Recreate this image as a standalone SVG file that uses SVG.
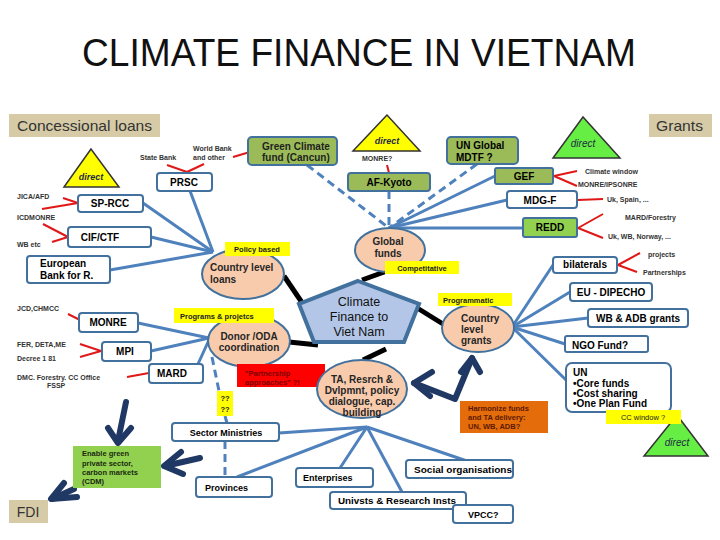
<svg xmlns="http://www.w3.org/2000/svg" width="720" height="540" viewBox="0 0 720 540">
<style>
.bx{fill:#fff;stroke:#41719c;stroke-width:2}
.gbx{fill:#9bbb59;stroke:#41719c;stroke-width:2}
.el{fill:#f8cbad;stroke:#41719c;stroke-width:2}
.yl{fill:#ffff00}
.tan{fill:#d6cba6}
.bl{stroke:#4f81bd;stroke-width:3;fill:none}
.dl{stroke:#4f81bd;stroke-width:3;fill:none;stroke-dasharray:8 5}
.rl{stroke:#e01818;stroke-width:2;fill:none}
.blk{stroke:#000;stroke-width:5;fill:none}
.nav{stroke:#1f3864;stroke-width:6;fill:none;stroke-linecap:round;stroke-linejoin:round}
.tri{stroke:#333;stroke-width:1.5}
text{font-family:"Liberation Sans",Arial,sans-serif;font-weight:bold;font-size:10px;fill:#000}
.s{font-size:7px;fill:#333}
.lb{font-size:7.5px;fill:#222}
.c{text-anchor:middle}
.el-t{fill:#262626}
.hd{font-weight:normal;fill:#333}
.dir{font-style:italic;font-size:9px;fill:#1f2a44}
</style>

<text x="359" y="66" class="c hd" textLength="554" lengthAdjust="spacingAndGlyphs" style="font-size:39px;fill:#111">CLIMATE FINANCE IN VIETNAM</text>

<g id="connectors">
  <line class="bl" x1="190" y1="191" x2="213" y2="252"/>
  <line class="bl" x1="143" y1="203" x2="213" y2="252"/>
  <line class="bl" x1="151" y1="237" x2="213" y2="252"/>
  <line class="bl" x1="110" y1="270" x2="213" y2="252"/>
  <line class="dl" x1="307" y1="165" x2="389" y2="228"/>
  <line class="dl" x1="389" y1="191" x2="389" y2="228"/>
  <line class="dl" x1="477" y1="164" x2="389" y2="228"/>
  <line class="bl" x1="495" y1="176" x2="389" y2="228"/>
  <line class="bl" x1="507" y1="200" x2="389" y2="228"/>
  <line class="bl" x1="523" y1="228" x2="389" y2="228"/>
  <line class="bl" x1="512" y1="327" x2="553" y2="265"/>
  <line class="bl" x1="512" y1="327" x2="570" y2="292"/>
  <line class="bl" x1="512" y1="327" x2="588" y2="318"/>
  <line class="bl" x1="512" y1="327" x2="565" y2="344"/>
  <line class="bl" x1="512" y1="327" x2="566" y2="380"/>
  <line class="bl" x1="138" y1="323" x2="209" y2="338"/>
  <line class="bl" x1="151" y1="351" x2="209" y2="338"/>
  <line class="bl" x1="198" y1="364" x2="209" y2="340"/>
  <line class="dl" x1="212" y1="357" x2="219" y2="391"/>
  <line class="dl" x1="225" y1="416" x2="227" y2="423"/>
  <line class="bl" x1="279" y1="433" x2="367" y2="427"/>
  <line class="bl" x1="237" y1="477" x2="367" y2="427"/>
  <line class="bl" x1="340" y1="468" x2="367" y2="427"/>
  <line class="bl" x1="402" y1="492" x2="367" y2="427"/>
  <line class="bl" x1="467" y1="461" x2="367" y2="427"/>
  <line class="dl" x1="225" y1="441" x2="225" y2="477"/>
  <line class="blk" x1="284" y1="276" x2="305" y2="307"/>
  <line class="blk" x1="362" y1="280" x2="387" y2="271"/>
  <line class="blk" x1="414" y1="306" x2="443" y2="324"/>
  <line class="blk" x1="318" y1="345" x2="289" y2="342"/>
  <line class="blk" x1="386" y1="349" x2="363" y2="360"/>
  <line class="rl" x1="167" y1="165" x2="187" y2="172"/>
  <line class="rl" x1="204" y1="164" x2="187" y2="172"/>
  <line class="rl" x1="233" y1="157" x2="250" y2="152"/>
  <line class="rl" x1="63" y1="198" x2="78" y2="203"/>
  <line class="rl" x1="42" y1="209" x2="78" y2="203"/>
  <line class="rl" x1="43" y1="224" x2="68" y2="237"/>
  <line class="rl" x1="52" y1="242" x2="68" y2="237"/>
  <line class="rl" x1="68" y1="314" x2="80" y2="320"/>
  <line class="rl" x1="80" y1="344" x2="101" y2="351"/>
  <line class="rl" x1="80" y1="357" x2="101" y2="351"/>
  <line class="rl" x1="127" y1="377" x2="149" y2="373"/>
  <line class="rl" x1="387" y1="165" x2="389" y2="173"/>
  <line class="rl" x1="577" y1="171" x2="554" y2="176"/>
  <line class="rl" x1="577" y1="186" x2="554" y2="176"/>
  <line class="rl" x1="578" y1="200" x2="603" y2="199"/>
  <line class="rl" x1="603" y1="214" x2="578" y2="228"/>
  <line class="rl" x1="603" y1="238" x2="578" y2="228"/>
  <line class="rl" x1="640" y1="253" x2="618" y2="265"/>
  <line class="rl" x1="637" y1="272" x2="618" y2="265"/>
  <line class="nav" x1="126" y1="402" x2="118" y2="441"/>
  <polyline class="nav" points="108,428 118,443 131,428"/>
  <line class="nav" x1="200" y1="458" x2="165" y2="466"/>
  <polyline class="nav" points="181,452 164,466 183,474"/>
  <line class="nav" x1="74" y1="489" x2="52" y2="499"/>
  <polyline class="nav" points="64,483 51,499 77,497"/>
  <polyline class="nav" points="414,383 455,399 472,358"/>
  <polyline class="nav" points="432,372 414,383 430,396"/>
  <polyline class="nav" points="461,372 472,358 480,372"/>
</g>

<g id="concessional"><rect class="tan" x="9" y="114" width="151" height="23"/><text x="17" y="131" class="hd" style="font-size:15px" textLength="135" lengthAdjust="spacingAndGlyphs">Concessional loans</text></g>
<g id="grants"><rect class="tan" x="649" y="114" width="63" height="23"/><text x="656" y="131" class="hd" style="font-size:15px" textLength="47" lengthAdjust="spacingAndGlyphs">Grants</text></g>
<g id="fdi"><rect class="tan" x="9" y="500" width="39" height="23"/><text x="28" y="517" class="hd c" style="font-size:14px">FDI</text></g>

<g id="direct1"><polygon class="tri yl" points="91,149 64,187 119,187"/><text x="91" y="180" class="c dir">direct</text></g>
<g id="direct2"><polygon class="tri yl" points="387,115 353,151 420,151"/><text x="387" y="144" class="c dir">direct</text></g>
<g id="direct3"><polygon class="tri" fill="#66ee44" points="583,117 553,158 620,158"/><text x="583" y="147" class="c dir" style="font-weight:normal;font-size:10px">direct</text></g>
<g id="direct4"><polygon class="tri" fill="#66ee44" points="677,415 644,456 708,456"/><text x="677" y="446" class="c dir" style="font-weight:normal;font-size:10px">direct</text></g>

<g id="annotations">
  <text x="140" y="160" class="s">State Bank</text>
  <text x="193" y="151" class="s">World Bank</text>
  <text x="193" y="160" class="s">and other</text>
  <text x="17" y="199" class="s">JICA/AFD</text>
  <text x="17" y="220" class="s">ICDMONRE</text>
  <text x="17" y="247" class="s">WB etc</text>
  <text x="17" y="311" class="s">JCD,CHMCC</text>
  <text x="17" y="347" class="s">FER, DETA,ME</text>
  <text x="17" y="361" class="s">Decree 1 81</text>
  <text x="17" y="380" class="s">DMC. Forestry. CC Office</text>
  <text x="47" y="388" class="s">FSSP</text>
  <text x="362" y="161" class="s">MONRE?</text>
  <text x="585" y="174" class="s">Climate window</text>
  <text x="578" y="187" class="s">MONRE/IPSONRE</text>
  <text x="607" y="202" class="s">Uk, Spain, ...</text>
  <text x="625" y="220" class="s">MARD/Forestry</text>
  <text x="608" y="239" class="s">Uk, WB, Norway, ...</text>
  <text x="648" y="257" class="s">projects</text>
  <text x="643" y="275" class="s">Partnerships</text>
</g>

<g id="prsc"><rect class="bx" x="157" y="173" width="55" height="18" rx="3"/><text x="184" y="186" class="c">PRSC</text></g>
<g id="sprcc"><rect class="bx" x="78" y="195" width="65" height="17" rx="3"/><text x="110" y="207" class="c">SP-RCC</text></g>
<g id="cifctf"><rect class="bx" x="68" y="227" width="83" height="20" rx="3"/><text x="100" y="241" class="c">CIF/CTF</text></g>
<g id="ebrd"><rect class="bx" x="27" y="256" width="83" height="27" rx="3"/><text x="40" y="267">European</text><text x="40" y="279">Bank for R.</text></g>
<g id="monre"><rect class="bx" x="79" y="313" width="59" height="19" rx="3"/><text x="108" y="326" class="c">MONRE</text></g>
<g id="mpi"><rect class="bx" x="102" y="342" width="49" height="19" rx="3"/><text x="125" y="355" class="c">MPI</text></g>
<g id="mard"><rect class="bx" x="149" y="364" width="54" height="19" rx="3"/><text x="172" y="377" class="c">MARD</text></g>

<g id="gcf"><rect class="gbx" x="248" y="137" width="89" height="28" rx="4"/><text x="262" y="150" style="fill:#1f1f1f">Green Climate</text><text x="262" y="161" style="fill:#1f1f1f">fund (Cancun)</text></g>
<g id="afkyoto"><rect class="gbx" x="348" y="173" width="82" height="18" rx="3"/><text x="389" y="186" class="c">AF-Kyoto</text></g>
<g id="unmdtf"><rect class="gbx" x="447" y="137" width="71" height="27" rx="4"/><text x="456" y="149">UN Global</text><text x="456" y="161">MDTF ?</text></g>
<g id="gef"><rect class="gbx" x="495" y="168" width="58" height="16" rx="2"/><text x="524" y="180" class="c">GEF</text></g>
<g id="mdgf"><rect class="bx" x="507" y="191" width="70" height="17" rx="3"/><text x="540" y="204" class="c">MDG-F</text></g>
<g id="redd"><rect x="523" y="218" width="54" height="19" rx="2" fill="#92d050" stroke="#41719c" stroke-width="2"/><text x="550" y="231" class="c">REDD</text></g>
<g id="bilaterals"><rect class="bx" x="553" y="257" width="64" height="16" rx="3"/><text x="585" y="268" class="c">bilaterals</text></g>
<g id="eudipecho"><rect class="bx" x="570" y="283" width="82" height="18" rx="3"/><text x="611" y="296" class="c">EU - DIPECHO</text></g>
<g id="wbadb"><rect class="bx" x="588" y="309" width="100" height="18" rx="3"/><text x="638" y="322" class="c">WB &amp; ADB grants</text></g>
<g id="ngo"><rect class="bx" x="565" y="336" width="83" height="16" rx="2"/><text x="600" y="349" class="c">NGO Fund?</text></g>
<g id="un"><rect class="bx" x="566" y="363" width="105" height="49" rx="6"/><text x="573" y="376">UN</text><text x="573" y="387">•Core funds</text><text x="573" y="397">•Cost sharing</text><text x="573" y="407">•One Plan Fund</text></g>
<g id="ccwindow"><rect class="yl" x="606" y="410" width="75" height="14"/><text x="643" y="420" class="c lb" style="font-weight:normal">CC window  ?</text></g>

<g id="loans"><ellipse class="el" cx="243" cy="274" rx="41" ry="25"/><text x="210" y="271" class="el-t">Country level</text><text x="210" y="283" class="el-t">loans</text></g>
<g id="policy"><rect class="yl" x="225" y="242" width="65" height="14"/><text x="257" y="252" class="c lb">Policy based</text></g>
<g id="global"><ellipse class="el" cx="390" cy="250" rx="35" ry="22"/><text x="388" y="245" class="c el-t">Global</text><text x="388" y="257" class="c el-t">funds</text></g>
<g id="competitive"><rect class="yl" x="385" y="261" width="74" height="13"/><text x="422" y="271" class="c lb">Competitative</text></g>
<g id="gcgrants"><ellipse class="el" cx="478" cy="328" rx="36" ry="24"/><text x="461" y="322" class="el-t">Country</text><text x="461" y="333" class="el-t">level</text><text x="461" y="344" class="el-t">grants</text></g>
<g id="programmatic"><rect class="yl" x="438" y="293" width="74" height="13"/><text x="443" y="303" class="lb">Programmatic</text></g>
<g id="donor"><ellipse class="el" cx="249" cy="341" rx="41" ry="26"/><text x="249" y="340" class="c el-t">Donor  /ODA</text><text x="249" y="351" class="c el-t">coordination</text></g>
<g id="programs"><rect class="yl" x="174" y="308" width="100" height="15"/><text x="180" y="319" class="lb">Programs &amp; projetcs</text></g>
<g id="partnership"><rect x="237" y="364" width="88" height="23" fill="#ff0000"/><text x="245" y="376" class="lb" style="fill:#7a0000">"Partnership</text><text x="245" y="385" class="lb" style="fill:#7a0000">approaches" ?!</text></g>
<g id="ta"><ellipse class="el" cx="362" cy="389" rx="45" ry="29"/><text x="362" y="383" class="c el-t">TA, Resrch &amp;</text><text x="362" y="394" class="c el-t">Dvlpmnt, policy</text><text x="362" y="405" class="c el-t">dialogue, cap.</text><text x="362" y="416" class="c el-t">building</text></g>
<g id="qq"><rect class="yl" x="217" y="391" width="16" height="25"/><text x="225" y="401" class="c lb">??</text><text x="225" y="412" class="c lb">??</text></g>

<g id="center"><polygon points="358,281 419,304 404,342 314,342 299,304" fill="#b4c6e7" stroke="#41719c" stroke-width="4"/><text x="359" y="306" class="c" style="font-weight:normal;font-size:12.5px;fill:#111">Climate</text><text x="359" y="321" class="c" style="font-weight:normal;font-size:12.5px;fill:#111">Finance to</text><text x="359" y="336" class="c" style="font-weight:normal;font-size:12.5px;fill:#111">Viet Nam</text></g>

<g id="harmonize"><rect x="460" y="401" width="88" height="32" fill="#e46c0a"/><text x="468" y="411" class="lb" style="fill:#5c1a00">Harmonize funds</text><text x="468" y="420" class="lb" style="fill:#5c1a00">and TA delivery:</text><text x="468" y="429" class="lb" style="fill:#5c1a00">UN, WB, ADB?</text></g>
<g id="enable"><rect x="73" y="446" width="88" height="42" fill="#92d050"/><text x="82" y="456" class="lb" style="fill:#1a2a10">Enable green</text><text x="82" y="466" class="lb" style="fill:#1a2a10">private sector,</text><text x="82" y="475" class="lb" style="fill:#1a2a10">carbon markets</text><text x="82" y="484" class="lb" style="fill:#1a2a10">(CDM)</text></g>

<g id="sector"><rect class="bx" x="172" y="423" width="107" height="18" rx="3"/><text x="226" y="436" class="c" style="font-size:9px">Sector Ministries</text></g>
<g id="provinces"><rect class="bx" x="196" y="477" width="76" height="20" rx="3"/><text x="205" y="491" style="font-size:9px">Provinces</text></g>
<g id="enterprises"><rect class="bx" x="296" y="468" width="77" height="19" rx="3"/><text x="303" y="481" style="font-size:9px">Enterprises</text></g>
<g id="social"><rect class="bx" x="406" y="460" width="107" height="18" rx="3"/><text x="414" y="473" style="font-size:9px" textLength="98" lengthAdjust="spacingAndGlyphs">Social organisations</text></g>
<g id="univ"><rect class="bx" x="330" y="492" width="136" height="17" rx="3"/><text x="338" y="504" style="font-size:9px" textLength="118" lengthAdjust="spacingAndGlyphs">Univsts &amp; Research Insts</text></g>
<g id="vpcc"><rect class="bx" x="453" y="505" width="60" height="18" rx="3"/><text x="468" y="518" style="font-size:9px">VPCC?</text></g>
</svg>
